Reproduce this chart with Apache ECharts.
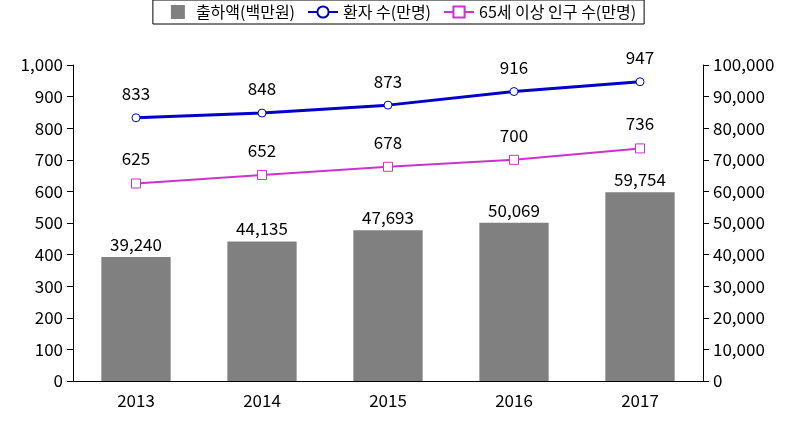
<!DOCTYPE html>
<html>
<head>
<meta charset="utf-8">
<script src="https://cdn.jsdelivr.net/npm/echarts@6/dist/echarts.min.js"></script>
<style>
html, body { margin: 0; padding: 0; background: #fff; }
#main { width: 797px; height: 421px; }
</style>
</head>
<body>
<div id="main"></div>
<script>
var years = ['2013', '2014', '2015', '2016', '2017'];
var sales = [39240, 44135, 47693, 50069, 59754];
var patients = [833, 848, 873, 916, 947];
var elderly = [625, 652, 678, 700, 736];

var font = '"Noto Sans CJK KR", "Noto Sans", sans-serif';
var fmt = function (v) { return Number(v).toLocaleString('en-US'); };

var myChart = echarts.init(document.getElementById('main'));
var option = {
    animation: false,
    textStyle: { fontFamily: font },
    legend: {
        top: 0,
        left: 'center',
        borderColor: '#000',
        borderWidth: 1,
        padding: [4, 8, 4, 8],
        itemGap: 12,
        itemWidth: 30,
        itemHeight: 14,
        textStyle: { fontSize: 16, color: '#000', fontFamily: font },
        data: [
            // square sitting a bit right of centre in the 30x14 icon box
            { name: '출하액(백만원)', icon: 'path://M10,0h14v14h-14zM0,0h0.01v0.01h-0.01zM29.99,13.99h0.01v0.01h-0.01z', itemStyle: { color: '#808080' } },
            { name: '환자 수(만명)' },
            { name: '65세 이상 인구 수(만명)' }
        ]
    },
    grid: { left: 73, right: 94, top: 65, bottom: 40 },
    xAxis: {
        type: 'category',
        data: years,
        axisLine: { lineStyle: { color: '#000', width: 1 } },
        axisTick: { show: false },
        axisLabel: { fontSize: 17, color: '#000', margin: 11 }
    },
    yAxis: [
        {
            type: 'value', min: 0, max: 1000, interval: 100,
            axisLine: { show: true, lineStyle: { color: '#000' } },
            axisTick: { show: true, length: 6, lineStyle: { color: '#000' } },
            splitLine: { show: false },
            axisLabel: { fontSize: 17, color: '#000', margin: 10, formatter: fmt }
        },
        {
            type: 'value', min: 0, max: 100000, interval: 10000,
            axisLine: { show: true, lineStyle: { color: '#000' } },
            axisTick: { show: true, length: 6, lineStyle: { color: '#000' } },
            splitLine: { show: false },
            axisLabel: { fontSize: 17, color: '#000', margin: 10, formatter: fmt }
        }
    ],
    series: [
        {
            name: '출하액(백만원)',
            type: 'bar',
            yAxisIndex: 1,
            barWidth: '55%',
            data: sales,
            itemStyle: { color: '#808080' },
            label: { show: true, position: 'top', distance: 4, fontSize: 17, color: '#000', formatter: function (p) { return fmt(p.value); } }
        },
        {
            name: '환자 수(만명)',
            type: 'line',
            yAxisIndex: 0,
            data: patients,
            symbol: 'circle',
            symbolSize: 8,
            lineStyle: { color: '#0000CC', width: 3 },
            itemStyle: { color: '#fff', borderColor: '#0000CC', borderWidth: 1 },
            label: { show: true, position: 'top', distance: 11, fontSize: 17, color: '#000' }
        },
        {
            name: '65세 이상 인구 수(만명)',
            type: 'line',
            yAxisIndex: 0,
            data: elderly,
            symbol: 'rect',
            symbolSize: 9,
            lineStyle: { color: '#CC33CC', width: 2 },
            itemStyle: { color: '#fff', borderColor: '#CC33CC', borderWidth: 1 },
            label: { show: true, position: 'top', distance: 11, fontSize: 17, color: '#000' }
        }
    ]
};
myChart.setOption(option);
</script>
</body>
</html>
